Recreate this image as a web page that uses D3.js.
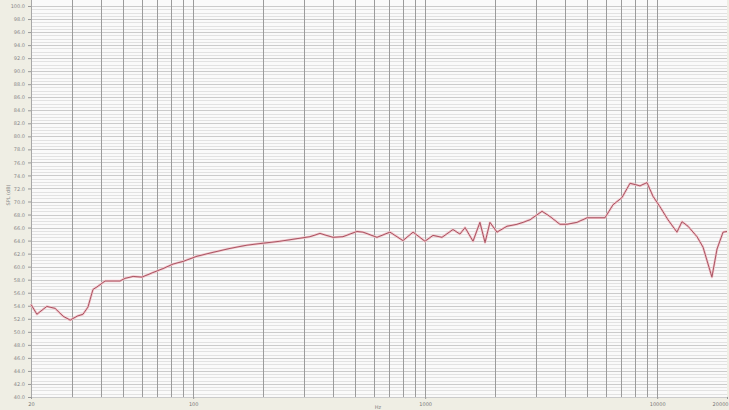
<!DOCTYPE html>
<html><head><meta charset="utf-8">
<script src="https://cdn.jsdelivr.net/npm/d3@7"></script>
<style>html,body{margin:0;padding:0;background:#efeee4;}svg{display:block;}</style>
</head><body>
<svg id="c" width="729" height="410"></svg>
<script>
const freqs = [20,21.2,23.4,25.4,27.5,29.5,31.6,33.5,35.2,37.0,38.9,41.7,48.4,50.8,55.1,60.2,67.1,74.1,81.9,90.4,103.9,121.8,144.2,170.6,200,236.6,280.4,319,352,400.6,442.4,508,539.6,620,705,802,887,998,1081,1182,1318,1412,1486,1608,1722,1812,1902,2040,2252,2488,2642,2832,3190,3452,3810,4084,4512,4986,5958,6452,7054,7638,8434,9038,9594,10280,11132,12170,12794,13584,14852,15764,17220,18114,19232,20000];
const levels = [54.2,52.7,53.9,53.6,52.4,51.8,52.4,52.7,53.8,56.5,57.0,57.8,57.8,58.2,58.5,58.4,59.1,59.7,60.4,60.8,61.6,62.2,62.8,63.3,63.6,63.9,64.3,64.6,65.1,64.5,64.6,65.4,65.3,64.5,65.3,64.0,65.3,63.9,64.8,64.5,65.7,65.0,66.0,63.9,66.8,63.7,66.8,65.3,66.2,66.5,66.8,67.2,68.5,67.7,66.5,66.5,66.8,67.5,67.5,69.5,70.6,72.8,72.4,72.9,70.8,69.2,67.2,65.3,66.9,66.2,64.6,63.0,58.4,62.7,65.3,65.4];
const yTicks = d3.range(40, 100.001, 2);
const xTickLabels = [20, 100, 1000, 10000, 20000];
const xGrid = [30,40,50,60,70,80,90,100,200,300,400,500,600,700,800,900,1000,2000,3000,4000,5000,6000,7000,8000,9000,10000];

const svg = d3.select("#c");
const L = 31, R = 727, T = 6, B = 397;
const x = d3.scaleLog().domain([20, 20000]).range([L, R]);
const y = d3.scaleLinear().domain([40, 100]).range([B, T]);

svg.append("rect").attr("x", L).attr("y", 0).attr("width", R - L).attr("height", B).attr("fill", "#fafafa");

const g = svg.append("g");
g.selectAll(".hm").data(d3.range(40, 100.001, 0.5)).join("line")
  .attr("x1", L).attr("x2", R).attr("y1", d => Math.round(y(d)) + 0.5).attr("y2", d => Math.round(y(d)) + 0.5)
  .attr("stroke", "#e2e2e2").attr("stroke-width", 1);
g.selectAll(".hM").data(yTicks).join("line")
  .attr("x1", L).attr("x2", R).attr("y1", d => Math.round(y(d)) + 0.5).attr("y2", d => Math.round(y(d)) + 0.5)
  .attr("stroke", "#cbcbcb").attr("stroke-width", 1);
g.selectAll(".v").data(xGrid).join("line")
  .attr("x1", d => Math.round(x(d)) + 0.5).attr("x2", d => Math.round(x(d)) + 0.5).attr("y1", 0).attr("y2", B)
  .attr("stroke", "#9c9c9c").attr("stroke-width", 1);
g.append("line").attr("x1", L + 0.5).attr("x2", L + 0.5).attr("y1", 0).attr("y2", B).attr("stroke", "#a8a8a8");

const yAxis = d3.axisLeft(y).tickValues(yTicks).tickFormat(d3.format(".1f")).tickSize(3);
const ya = svg.append("g").attr("transform", `translate(${L},0)`).call(yAxis);
ya.select(".domain").remove();
ya.selectAll("line").attr("stroke", "#999");
ya.selectAll("text").attr("font-family", "DejaVu Sans").attr("font-size", 5).attr("fill", "#888");

const xAxis = d3.axisBottom(x).tickValues(xTickLabels).tickFormat(d3.format("d")).tickSize(2);
const xa = svg.append("g").attr("transform", `translate(0,${B})`).call(xAxis);
xa.select(".domain").remove();
xa.selectAll("line").attr("stroke", "#999");
xa.selectAll("text").attr("font-family", "DejaVu Sans").attr("font-size", 5).attr("fill", "#777");
xa.selectAll("text").filter(d => d === 20000).attr("text-anchor", "end").attr("dx", 1);

svg.append("text").attr("x", 378).attr("y", 409).attr("text-anchor", "middle")
  .attr("font-family", "DejaVu Sans").attr("font-size", 5).attr("fill", "#888").text("Hz");
svg.append("text").attr("transform", "translate(10,195) rotate(-90)").attr("text-anchor", "middle")
  .attr("font-family", "DejaVu Sans").attr("font-size", 5).attr("fill", "#888").text("SPL (dB)");

const data = freqs.map((f, i) => [f, levels[i]]);
const line = d3.line().x(d => x(d[0])).y(d => y(d[1]));
svg.append("path").datum(data).attr("d", line).attr("fill", "none")
  .attr("stroke", "#f2c4ca").attr("stroke-width", 2.4).attr("stroke-linejoin", "round");
svg.append("path").datum(data).attr("d", line).attr("fill", "none")
  .attr("stroke", "#a85462").attr("stroke-width", 1).attr("stroke-linejoin", "round");
</script>
</body></html>
